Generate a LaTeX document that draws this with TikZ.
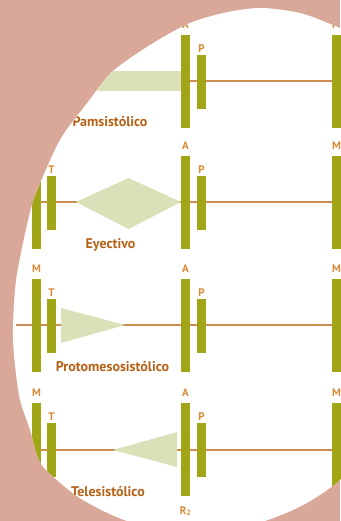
\documentclass[tikz,border=0pt]{standalone}
\usepackage{fontspec}
\setmainfont{PT Sans}
\usetikzlibrary{calc}
\definecolor{bgpink}{RGB}{217,168,152}
\definecolor{olive}{RGB}{160,166,22}
\definecolor{pale}{RGB}{220,224,184}
\definecolor{tanline}{RGB}{204,140,82}
\definecolor{capcol}{RGB}{182,98,22}
\definecolor{letcol}{RGB}{216,138,52}
\begin{document}
\begin{tikzpicture}[x=1pt,y=-1pt,
  bigbar/.style={rectangle,fill=olive,inner sep=0,minimum width=9pt,minimum height=93pt},
  smallbar/.style={rectangle,fill=olive,inner sep=0,minimum width=9pt,minimum height=54pt},
  hline/.style={draw=tanline,line width=2pt},
  murmur/.style={fill=pale},
  letter/.style={text=letcol,font=\bfseries\fontsize{11}{11}\selectfont,inner sep=0},
  caption/.style={text=capcol,font=\bfseries\fontsize{14}{14}\selectfont,inner sep=0,anchor=base}]
\useasboundingbox (0,0) rectangle (340,521);
\def\blob{plot[smooth cycle] coordinates {(262,8) (300,13) (330,24) (346,33) (380,70) (400,260) (380,440) (340,480) (305,504) (265,521) (200,540) (127,521) (83,500) (57,480) (40,462) (30,430) (19,395) (13,340) (15,290) (20,258) (32,205) (48,165) (63,135) (88,102) (112,72) (150,45) (190,23) (228,12)}}
\fill[bgpink] (0,0) rectangle (340,521);
\fill[white] \blob;
\begin{scope}
\clip \blob;
% ---------- row 1 ----------
\coordinate (s1) at (40,81); \coordinate (e1) at (336.5,81);
\draw[hline] (s1) -- (e1);
\fill[murmur] (40,71) rectangle (181,91);
\node[bigbar] (A1) at (185.5,81.5) {};
\node[smallbar] (P1) at (201.5,82) {};
\node[bigbar] (M1r) at (336.5,81.5) {};
\node[letter,anchor=south] (lA1) at ([yshift=6.5pt]A1.north) {A};
\node[letter,anchor=south] (lP1) at ([yshift=2.5pt]P1.north) {P};
\node[letter,anchor=south] (lM1r) at ([yshift=6.5pt]M1r.north) {M};
\node[caption] (c1) at (110,127) {Pamsistólico};
% ---------- row 2 ----------
\coordinate (s2) at (0,202); \coordinate (e2) at (336.5,202);
\draw[hline] (s2) -- (e2);
\fill[murmur] (76,202) -- (128.5,178) -- (181,202) -- (128.5,229) -- cycle;
\node[bigbar] (M2) at (36.5,202.5) {};
\node[smallbar] (T2) at (51.5,203) {};
\node[bigbar] (A2) at (185.5,202.5) {};
\node[smallbar] (P2) at (201.5,203) {};
\node[bigbar] (M2r) at (336.5,202.5) {};
\node[letter,anchor=south] (lT2) at ([yshift=2.5pt]T2.north) {T};
\node[letter,anchor=south] (lA2) at ([yshift=6.5pt]A2.north) {A};
\node[letter,anchor=south] (lP2) at ([yshift=2.5pt]P2.north) {P};
\node[letter,anchor=south] (lM2r) at ([yshift=6.5pt]M2r.north) {M};
\node[caption] (c2) at (110.5,248) {Eyectivo};
% ---------- row 3 ----------
\coordinate (s3) at (16,325); \coordinate (e3) at (336.5,325);
\draw[hline] (s3) -- (e3);
\fill[murmur] (61,308) -- (125,325) -- (61,343) -- cycle;
\node[bigbar] (M3) at (36.5,325.5) {};
\node[smallbar] (T3) at (51.5,326) {};
\node[bigbar] (A3) at (185.5,325.5) {};
\node[smallbar] (P3) at (201.5,326) {};
\node[bigbar] (M3r) at (336.5,325.5) {};
\node[letter,anchor=south] (lM3) at ([yshift=6.5pt]M3.north) {M};
\node[letter,anchor=south] (lT3) at ([yshift=2.5pt]T3.north) {T};
\node[letter,anchor=south] (lA3) at ([yshift=6.5pt]A3.north) {A};
\node[letter,anchor=south] (lP3) at ([yshift=2.5pt]P3.north) {P};
\node[letter,anchor=south] (lM3r) at ([yshift=6.5pt]M3r.north) {M};
\node[caption] (c3) at (112.5,371) {Protomesosistólico};
% ---------- row 4 ----------
\coordinate (s4) at (0,450); \coordinate (e4) at (336.5,450);
\draw[hline] (s4) -- (e4);
\fill[murmur] (113,450) -- (177,432) -- (177,467) -- cycle;
\node[bigbar] (M4) at (36.5,449.5) {};
\node[smallbar] (T4) at (51.5,450) {};
\node[bigbar] (A4) at (185.5,449.5) {};
\node[smallbar] (P4) at (201.5,450) {};
\node[bigbar] (M4r) at (336.5,449.5) {};
\node[letter,anchor=south] (lM4) at ([yshift=6.5pt]M4.north) {M};
\node[letter,anchor=south] (lT4) at ([yshift=2.5pt]T4.north) {T};
\node[letter,anchor=south] (lA4) at ([yshift=6.5pt]A4.north) {A};
\node[letter,anchor=south] (lP4) at ([yshift=2.5pt]P4.north) {P};
\node[letter,anchor=south] (lM4r) at ([yshift=6.5pt]M4r.north) {M};
\node[letter,anchor=north] (lR4) at ([yshift=-10pt]A4.south) {R\textsubscript{2}};
\node[caption] (c4) at (108,496) {Telesistólico};
\end{scope}
\end{tikzpicture}
\end{document}
